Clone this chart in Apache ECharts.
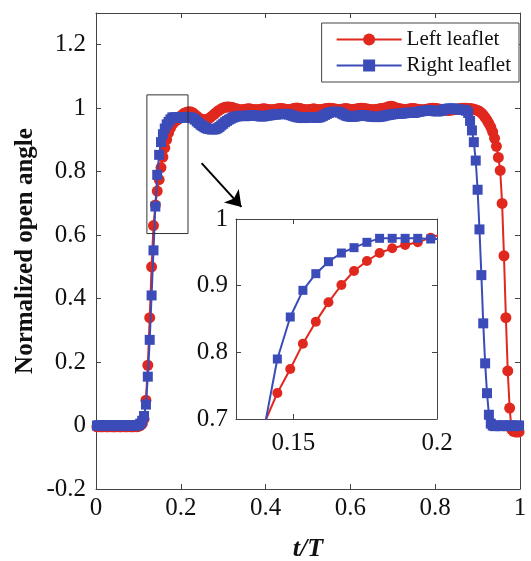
<!DOCTYPE html>
<html><head><meta charset="utf-8">
<script src="https://cdn.jsdelivr.net/npm/echarts@6/dist/echarts.min.js"></script>
<style>html,body{margin:0;padding:0;background:#fff}#c{width:531px;height:561px}</style>
</head><body><div id="c"></div>
<script>
// sample times t/T
const tGrid = [
0.0022,0.0067,0.0111,0.0156,0.0200,0.0244,0.0289,0.0333,0.0378,
0.0422,0.0467,0.0511,0.0556,0.0600,0.0644,0.0689,0.0733,0.0778,
0.0822,0.0867,0.0911,0.0956,0.1000,0.1044,0.1089,0.1133,0.1178,
0.1222,0.1267,0.1311,0.1356,0.1400,0.1444,0.1489,0.1533,0.1578,
0.1622,0.1667,0.1711,0.1756,0.1800,0.1844,0.1889,0.1933,0.1978,
0.2022,0.2067,0.2111,0.2156,0.2200,0.2244,0.2289,0.2333,0.2378,
0.2422,0.2467,0.2511,0.2556,0.2600,0.2644,0.2689,0.2733,0.2778,
0.2822,0.2867,0.2911,0.2956,0.3000,0.3044,0.3089,0.3133,0.3178,
0.3222,0.3267,0.3311,0.3356,0.3400,0.3444,0.3489,0.3533,0.3578,
0.3622,0.3667,0.3711,0.3756,0.3800,0.3844,0.3889,0.3933,0.3978,
0.4022,0.4067,0.4111,0.4156,0.4200,0.4244,0.4289,0.4333,0.4378,
0.4422,0.4467,0.4511,0.4556,0.4600,0.4644,0.4689,0.4733,0.4778,
0.4822,0.4867,0.4911,0.4956,0.5000,0.5044,0.5089,0.5133,0.5178,
0.5222,0.5267,0.5311,0.5356,0.5400,0.5444,0.5489,0.5533,0.5578,
0.5622,0.5667,0.5711,0.5756,0.5800,0.5844,0.5889,0.5933,0.5978,
0.6022,0.6067,0.6111,0.6156,0.6200,0.6244,0.6289,0.6333,0.6378,
0.6422,0.6467,0.6511,0.6556,0.6600,0.6644,0.6689,0.6733,0.6778,
0.6822,0.6867,0.6911,0.6956,0.7000,0.7044,0.7089,0.7133,0.7178,
0.7222,0.7267,0.7311,0.7356,0.7400,0.7444,0.7489,0.7533,0.7578,
0.7622,0.7667,0.7711,0.7756,0.7800,0.7844,0.7889,0.7933,0.7978,
0.8022,0.8067,0.8111,0.8156,0.8200,0.8244,0.8289,0.8333,0.8378,
0.8422,0.8467,0.8511,0.8556,0.8600,0.8644,0.8689,0.8733,0.8778,
0.8822,0.8867,0.8911,0.8956,0.9000,0.9044,0.9089,0.9133,0.9178,
0.9222,0.9267,0.9311,0.9356,0.9400,0.9444,0.9489,0.9533,0.9578,
0.9622,0.9667,0.9711,0.9756,0.9800,0.9844,0.9889,0.9933,0.9978
];
// Left leaflet (red circles)
const leftLeaflet = [
-0.004,-0.003,-0.004,-0.004,-0.003,-0.004,-0.004,-0.003,-0.004,
-0.004,-0.004,-0.003,-0.004,-0.004,-0.003,-0.004,-0.004,-0.003,
-0.004,-0.004,-0.003,-0.004,-0.003,0.000,0.005,0.020,0.080,
0.190,0.340,0.500,0.630,0.695,0.739,0.775,0.813,0.846,
0.875,0.901,0.922,0.937,0.949,0.956,0.961,0.965,0.972,
0.978,0.983,0.986,0.988,0.989,0.988,0.985,0.980,0.975,
0.970,0.966,0.964,0.963,0.964,0.966,0.970,0.975,0.980,
0.985,0.990,0.994,0.998,1.001,1.003,1.004,1.004,1.003,
1.002,1.000,0.998,0.996,0.995,0.995,0.996,0.997,0.998,
0.998,0.997,0.996,0.995,0.995,0.996,0.997,0.998,0.998,
0.997,0.996,0.995,0.995,0.996,0.997,0.998,0.999,0.999,
0.998,0.997,0.996,0.996,0.997,0.998,1.000,1.001,1.000,
0.999,0.997,0.996,0.995,0.995,0.996,0.997,0.998,0.997,
0.996,0.995,0.996,0.997,0.998,0.999,1.000,1.000,0.999,
0.998,0.997,0.996,0.996,0.997,0.998,0.999,0.998,0.997,
0.996,0.996,0.997,0.998,0.999,1.000,1.000,0.999,0.998,
0.997,0.996,0.995,0.995,0.996,0.997,0.998,0.999,1.000,
1.001,1.003,1.005,1.006,1.005,1.003,1.001,0.999,0.998,
0.997,0.996,0.996,0.997,0.998,0.999,0.999,0.998,0.997,
0.996,0.995,0.995,0.996,0.997,0.998,0.999,1.000,1.000,
0.999,0.998,0.997,0.996,0.995,0.994,0.993,0.993,0.994,
0.995,0.996,0.997,0.998,0.999,1.000,1.000,1.000,0.999,
0.999,0.998,0.997,0.995,0.993,0.990,0.985,0.979,0.971,
0.962,0.952,0.940,0.925,0.905,0.880,0.845,0.804,0.700,
0.535,0.340,0.172,0.055,-0.012,-0.018,-0.020,-0.020,-0.020
];
// Right leaflet (blue squares)
const rightLeaflet = [
0.000,0.001,0.000,0.000,0.001,0.000,0.000,0.001,0.000,
0.000,0.001,0.000,0.000,0.001,0.000,0.000,0.001,0.000,
0.000,0.000,0.001,0.000,0.002,0.006,0.015,0.030,0.066,
0.154,0.270,0.410,0.552,0.690,0.790,0.853,0.893,0.918,
0.936,0.949,0.957,0.965,0.971,0.971,0.971,0.971,0.970,
0.970,0.971,0.972,0.972,0.971,0.970,0.968,0.964,0.958,
0.953,0.948,0.944,0.940,0.937,0.935,0.934,0.933,0.933,
0.934,0.937,0.941,0.946,0.951,0.956,0.960,0.964,0.967,
0.970,0.972,0.974,0.975,0.976,0.976,0.975,0.975,0.976,
0.977,0.978,0.978,0.977,0.976,0.975,0.974,0.974,0.975,
0.976,0.977,0.978,0.979,0.980,0.980,0.981,0.981,0.982,
0.982,0.982,0.981,0.980,0.978,0.976,0.974,0.972,0.971,
0.970,0.969,0.969,0.970,0.971,0.972,0.972,0.971,0.970,
0.970,0.971,0.973,0.976,0.979,0.982,0.985,0.987,0.988,
0.989,0.989,0.988,0.986,0.983,0.980,0.977,0.975,0.974,
0.973,0.973,0.974,0.975,0.977,0.978,0.978,0.977,0.976,
0.975,0.974,0.973,0.973,0.972,0.972,0.973,0.974,0.975,
0.977,0.978,0.979,0.980,0.981,0.982,0.982,0.982,0.983,
0.983,0.984,0.985,0.986,0.986,0.985,0.985,0.986,0.988,
0.989,0.990,0.991,0.992,0.993,0.993,0.993,0.992,0.991,
0.990,0.990,0.991,0.993,0.995,0.997,0.998,0.999,0.999,
0.999,0.998,0.997,0.996,0.995,0.995,0.994,0.992,0.985,
0.960,0.930,0.893,0.835,0.743,0.618,0.474,0.322,0.196,
0.102,0.034,0.006,0.000,-0.002,0.000,0.000,-0.002,0.000,
0.000,0.000,-0.002,0.000,0.000,0.000,-0.002,0.000,0.000
];
const seriesNames = ['Left leaflet', 'Right leaflet'];
const insetXTicks = [0.15, 0.2];
const insetTopTicks = [0.15];
// zoom rectangle and arrow, in data coordinates of the main axes
const zoomBoxT = [0.12, 0.217, 0.217, 0.12, 0.12];
const zoomBoxV = [0.605, 0.605, 1.042, 1.042, 0.605];
const arrowFrom = [0.249, 0.827];
const arrowTo = [0.343, 0.689];

const FONT = '"Liberation Serif", "Times New Roman", serif';
const RED = '#e0281f';
const BLUE = '#3b4cb8';
const AX = '#444';
const TXT = '#111';

const pairs = arr => tGrid.map((t, i) => [t, arr[i]]);
const leftData = pairs(leftLeaflet);
const rightData = pairs(rightLeaflet);
const boxData = zoomBoxT.map((t, i) => [t, zoomBoxV[i]]);

const tick = {show: true, inside: true, length: 5, lineStyle: {color: AX, width: 1}};
const line = {show: true, onZero: false, lineStyle: {color: AX, width: 1}};
const lbl = {fontFamily: FONT, fontSize: 25, color: TXT};

const chart = echarts.init(document.getElementById('c'), null, {renderer: 'canvas'});
chart.setOption({
  animation: false,
  backgroundColor: '#fff',
  grid: [
    {left: 96, right: 11, top: 13, bottom: 72, containLabel: false, outerBoundsMode: 'none'},
    {left: 236, top: 219, width: 201, height: 200, containLabel: false, outerBoundsMode: 'none',
     show: true, backgroundColor: '#fff', borderWidth: 0}
  ],
  legend: {
    data: seriesNames, orient: 'vertical', right: 12, top: 23,
    padding: [6, 8, 6, 14], itemGap: 5, itemWidth: 65, itemHeight: 15,
    borderColor: AX, borderWidth: 1, backgroundColor: '#fff', selectedMode: false,
    textStyle: {fontFamily: FONT, fontSize: 21, color: TXT}
  },
  xAxis: [
    {type: 'value', gridIndex: 0, min: 0, max: 1, interval: 0.2, position: 'bottom',
     axisLine: line, axisTick: tick, splitLine: {show: false},
     axisLabel: Object.assign({margin: 7}, lbl),
     name: 't/T', nameLocation: 'middle', nameGap: 47, nameMoveOverlap: false,
     nameTextStyle: {fontFamily: FONT, fontSize: 26, fontWeight: 'bold', fontStyle: 'italic', color: TXT}},
    {type: 'value', gridIndex: 0, min: 0, max: 1, interval: 0.2, position: 'top',
     axisLine: line, axisTick: tick, splitLine: {show: false}, axisLabel: {show: false}},
    {type: 'value', gridIndex: 1, min: 0.13, max: 0.2, position: 'bottom',
     axisLine: line, axisTick: Object.assign({customValues: insetXTicks}, tick), splitLine: {show: false},
     axisLabel: Object.assign({margin: 12, customValues: insetXTicks, showMinLabel: true, showMaxLabel: true}, lbl)},
    {type: 'value', gridIndex: 1, min: 0.13, max: 0.2, position: 'top',
     axisLine: line, axisTick: Object.assign({customValues: insetTopTicks}, tick), splitLine: {show: false},
     axisLabel: {show: false}}
  ],
  yAxis: [
    {type: 'value', gridIndex: 0, min: -0.2, max: 1.3, interval: 0.2, position: 'left',
     axisLine: line, axisTick: tick, splitLine: {show: false},
     axisLabel: Object.assign({margin: 10, formatter: v => (v > 1.25 ? '' : String(+v.toFixed(1)))}, lbl),
     name: 'Normalized open angle', nameLocation: 'middle', nameGap: 58, nameMoveOverlap: false,
     nameTextStyle: {fontFamily: FONT, fontSize: 25, fontWeight: 'bold', color: TXT}},
    {type: 'value', gridIndex: 0, min: -0.2, max: 1.3, interval: 0.2, position: 'right',
     axisLine: line, axisTick: tick, splitLine: {show: false}, axisLabel: {show: false}},
    {type: 'value', gridIndex: 1, min: 0.7, max: 1, interval: 0.1, position: 'left',
     axisLine: line, axisTick: tick, splitLine: {show: false},
     axisLabel: Object.assign({margin: 8}, lbl)},
    {type: 'value', gridIndex: 1, min: 0.7, max: 1, interval: 0.1, position: 'right',
     axisLine: line, axisTick: tick, splitLine: {show: false}, axisLabel: {show: false}}
  ],
  series: [
    {name: seriesNames[0], type: 'line', xAxisIndex: 0, yAxisIndex: 0, data: leftData,
     symbol: 'circle', symbolSize: 11, lineStyle: {color: RED, width: 2}, itemStyle: {color: RED}, z: 2},
    {name: seriesNames[1], type: 'line', xAxisIndex: 0, yAxisIndex: 0, data: rightData,
     symbol: 'rect', symbolSize: 10, lineStyle: {color: BLUE, width: 2}, itemStyle: {color: BLUE}, z: 3},
    {name: seriesNames[0], type: 'line', xAxisIndex: 2, yAxisIndex: 2, data: leftData, clip: true,
     symbol: 'circle', symbolSize: 10, lineStyle: {color: RED, width: 2}, itemStyle: {color: RED}, z: 4},
    {name: seriesNames[1], type: 'line', xAxisIndex: 2, yAxisIndex: 2, data: rightData, clip: true,
     symbol: 'rect', symbolSize: 9, lineStyle: {color: BLUE, width: 2}, itemStyle: {color: BLUE}, z: 5},
    {name: 'zoomBox', type: 'line', xAxisIndex: 0, yAxisIndex: 0, data: boxData, symbol: 'none',
     lineStyle: {color: '#333', width: 1}, z: 6, silent: true, clip: false,
     markLine: {silent: true, symbol: ['none', 'arrow'], symbolSize: 15, label: {show: false},
       lineStyle: {color: '#000', width: 2, type: 'solid'},
       data: [[{coord: arrowFrom}, {coord: arrowTo}]]}}
  ]
});
</script>
</body></html>
